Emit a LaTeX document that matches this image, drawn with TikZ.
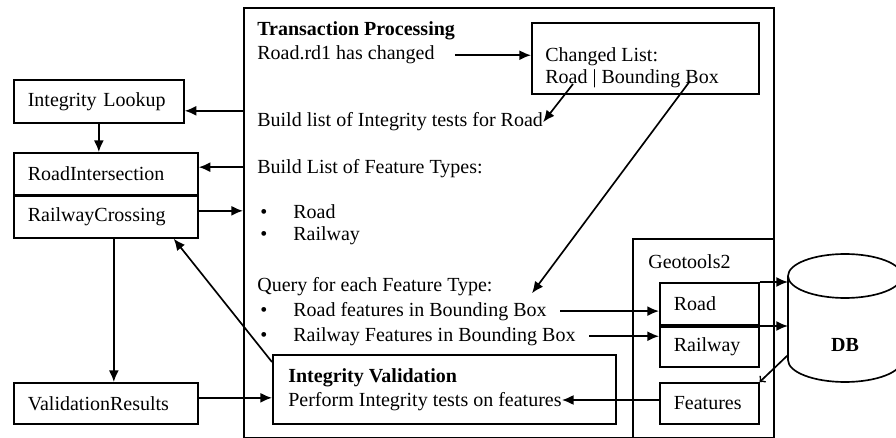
\documentclass[tikz,border=0pt]{standalone}
\usepackage{fontspec}
\setmainfont{Liberation Serif}
\usetikzlibrary{positioning,calc,arrows.meta}
\tikzset{tpbox/.style={draw, line width=1pt, inner sep=0pt, anchor=north west}}
\tikzset{unit/.style={draw, line width=1pt, anchor=north west, align=left, inner ysep=0pt, inner xsep=8.4pt}}
\tikzset{line/.style={inner sep=0pt, anchor=base west}}
\tikzset{
  edgeflow/.style={line width=1pt, -{Latex[length=7pt,width=6pt]}},
  edgedb/.style={line width=1pt, -to}
}
\newcommand\bul[1]{\makebox[19.8pt][l]{\textbullet}#1}

\begin{document}
\begin{tikzpicture}[x=0.6pt, y=-0.6pt, font=\fontsize{12}{14}\selectfont]
\useasboundingbox (0,0) rectangle (896,438);
% transaction processing
\node[tpbox, minimum width=318pt, minimum height=258pt] (tp) at (243,7) {};
\node[line] (t1) at (257,36) {\textbf{Transaction Processing}};
\node[line] (t2) at (257,60) {Road.rd1 has changed};
\node[line] (t3) at (257,127) {Build list of Integrity tests for Road};
\node[line] (t4) at (257,173) {Build List of Feature Types:};
\node[line] (t5) at (260,219) {\bul{Road}};
\node[line] (t6) at (260,241) {\bul{Railway}};
\node[line] (t7) at (257,292) {Query for each Feature Type:};
\node[line] (t8) at (260,316) {\bul{Road features in Bounding Box}};
\node[line] (t9) at (260,341) {\bul{Railway Features in Bounding Box}};
\node[tpbox, minimum width=136.2pt, minimum height=42.6pt] (cl) at (531,22) {};
\node[line] (cl1) at (545,62) {Changed List:};
\node[line] (cl2) at (545,84) {Road | Bounding Box};
\coordinate (clA) at (573,84);
\coordinate (clB) at (690,81);
\node[tpbox, minimum width=205.8pt, minimum height=41.4pt] (ival) at (272,354) {};
\node[line] (iv) at (288,382) {\textbf{Integrity Validation}};
\node[line] (pf) at (288,406) {Perform Integrity tests on features};
% geotools
\node[tpbox, minimum width=84.6pt, minimum height=119.4pt] (geo) at (632,238) {};
\node[line] (gt) at (648,268) {Geotools2};
\node[unit, text width=42.6pt, minimum height=25.2pt] (road) at (659,282) {Road};
\node[unit, text width=42.6pt, minimum height=24pt] (railway) at (659,326) {Railway};
\node[unit, text width=42.6pt, minimum height=24.6pt] (features) at (659,382) {Features};
% rules
\node[unit, text width=85.2pt, minimum height=25.8pt] (lookup) at (13,79) {Integrity Lookup};
\node[unit, text width=93.6pt, minimum height=25.2pt] (roadint) at (13,152) {RoadIntersection};
\node[unit, text width=93.6pt, minimum height=25.2pt] (railcross) at (13,195) {RailwayCrossing};
\node[unit, text width=93.6pt, minimum height=24.6pt] (valres) at (13,382) {ValidationResults};
% database
\draw[line width=1pt] (845,276) ellipse [x radius=34.2pt, y radius=13.2pt];
\draw[line width=1pt] (788,276) -- (788,360) arc[start angle=180, end angle=360, x radius=34.2pt, y radius=13.2pt] -- (902,276);
\node[font=\fontsize{12}{14}\bfseries] (db) at (845,345) {DB};
\coordinate (dbw) at (788,318);
\coordinate (dbf) at (788,355);

\draw[edgeflow] ([xshift=12pt]t2.east) -- (t2.east -| cl.west);
\draw[edgeflow] (clA) -- (t3.east);
\draw[edgeflow] (clB) -- ([xshift=-9pt,yshift=5pt]t8.north east);
\draw[edgeflow] ([yshift=-5.7pt]lookup.east -| tp.west) -- ([yshift=-5.7pt]lookup.east);
\draw[edgeflow] (lookup.south) -- (lookup.south |- roadint.north);
\draw[edgeflow] ([yshift=4pt]roadint.east -| tp.west) -- ([yshift=4pt]roadint.east);
\draw[edgeflow] ([yshift=3.6pt]railcross.east) -- ([yshift=3.6pt]railcross.east -| tp.west);
\draw[edgeflow] ([xshift=4.8pt]railcross.south) -- ([xshift=4.8pt]valres.north);
\draw[edgeflow] ([yshift=3.3pt]valres.east) -- ([yshift=3.3pt]valres.east -| ival.west);
\draw[edgeflow] ([yshift=-4.8pt]ival.north west) -- ([xshift=-15pt]railcross.south east);
\draw[edgeflow] ([xshift=8pt]t8.east) -- (t8.east -| road.west);
\draw[edgeflow] ([xshift=8pt]t9.east) -- (t9.east -| railway.west);
\draw[edgeflow] (road.north east) -- (road.north east -| dbw);
\draw[edgeflow] (railway.north east) -- (railway.north east -| dbw);
\draw[edgedb] (dbf) -- (features.north east);
\draw[edgeflow] ([yshift=2pt]features.west) -- ([yshift=2pt]features.west -| pf.east);
\end{tikzpicture}
\end{document}
